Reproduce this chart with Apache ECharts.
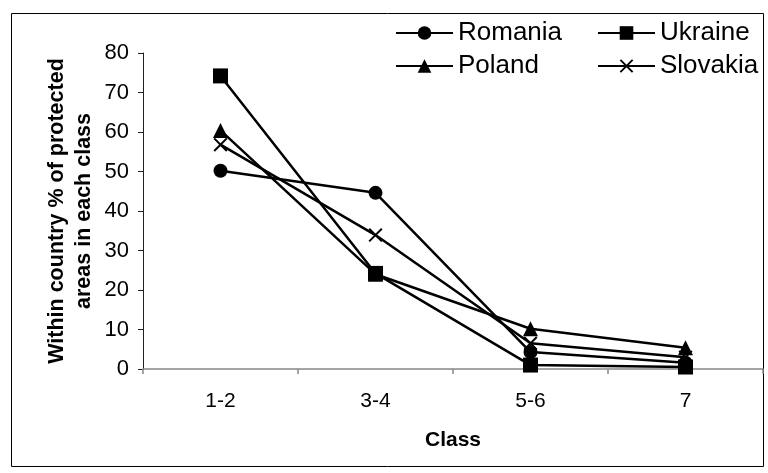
<!DOCTYPE html>
<html>
<head>
<meta charset="utf-8">
<script src="https://cdn.jsdelivr.net/npm/echarts@6/dist/echarts.min.js"></script>
<style>html,body{margin:0;padding:0;background:#fff;}#c{width:768px;height:473px;}</style>
</head>
<body>
<div id="c"></div>
<script>
const categories = ['1-2', '3-4', '5-6', '7'];
const romania = [50.2, 44.6, 4.3, 1.6];
const ukraine = [74.2, 24.2, 1.0, 0.5];
const poland = [60.4, 24.0, 10.2, 5.4];
const slovakia = [56.8, 33.9, 6.5, 3.0];
const yTicks = [0, 10, 20, 30, 40, 50, 60, 70, 80];

const FONT = 'Liberation Sans, Arial, sans-serif';
const XSYM = 'path://M0,1L1,0L10,9L9,10Z M9,0L10,1L1,10L0,9Z';

function mkSeries(name, data, symbol, size) {
  return {
    name: name, type: 'line', data: data,
    symbol: symbol, symbolSize: size,
    lineStyle: { color: '#000', width: 2.5 },
    itemStyle: { color: '#000' },
    emphasis: { disabled: true },
    animation: false
  };
}

const legendText = { fontSize: 26, fontFamily: FONT, color: '#000', lineHeight: 26, padding: [0, 0, 0, 0] };

const chart = echarts.init(document.getElementById('c'), null, { renderer: 'canvas' });
chart.setOption({
  animation: false,
  backgroundColor: '#fff',
  textStyle: { fontFamily: FONT, color: '#000' },
  graphic: [{
    type: 'rect', shape: { x: 11.5, y: 13.5, width: 752, height: 453 },
    style: { fill: 'none', stroke: '#000', lineWidth: 1 }, silent: true, z: -1
  }],
  legend: [{
    data: ['Romania', 'Poland'], orient: 'vertical', left: 390, top: 15,
    itemWidth: 57, itemHeight: 17, itemGap: 7,
    textStyle: legendText, selectedMode: false
  }, {
    data: ['Ukraine', 'Slovakia'], orient: 'vertical', left: 592, top: 15,
    itemWidth: 57, itemHeight: 17, itemGap: 7,
    textStyle: legendText, selectedMode: false
  }],
  grid: { left: 143, right: 5, top: 53, bottom: 104, containLabel: false },
  xAxis: {
    type: 'category', data: categories, boundaryGap: true,
    name: 'Class', nameLocation: 'middle', nameGap: 61, nameMoveOverlap: false,
    nameTextStyle: { fontSize: 21, fontWeight: 'bold', fontFamily: FONT, color: '#000' },
    axisLine: { lineStyle: { color: '#888', width: 1.5 } },
    axisTick: { show: true, length: 5, lineStyle: { color: '#888', width: 1.5 } },
    axisLabel: { fontSize: 21, color: '#000', margin: 22, fontFamily: FONT },
    splitLine: { show: false }
  },
  yAxis: {
    type: 'value', min: 0, max: 80, interval: 10,
    name: 'Within country % of protected\nareas in each class', nameLocation: 'middle', nameGap: 45, nameMoveOverlap: false,
    nameTextStyle: { fontSize: 21.5, fontWeight: 'bold', fontFamily: FONT, color: '#000', lineHeight: 27 },
    axisLine: { show: true, lineStyle: { color: '#222', width: 1 } },
    axisTick: { show: true, length: 5, lineStyle: { color: '#222' } },
    axisLabel: { fontSize: 22, color: '#000', margin: 14, fontFamily: FONT,
      formatter: function (v) { return yTicks.indexOf(v) >= 0 ? String(v) : ''; } },
    splitLine: { show: false }
  },
  series: [
    mkSeries('Romania', romania, 'circle', 14),
    mkSeries('Ukraine', ukraine, 'rect', 15),
    mkSeries('Poland', poland, 'triangle', 15),
    mkSeries('Slovakia', slovakia, XSYM, 14)
  ]
});
</script>
</body>
</html>
